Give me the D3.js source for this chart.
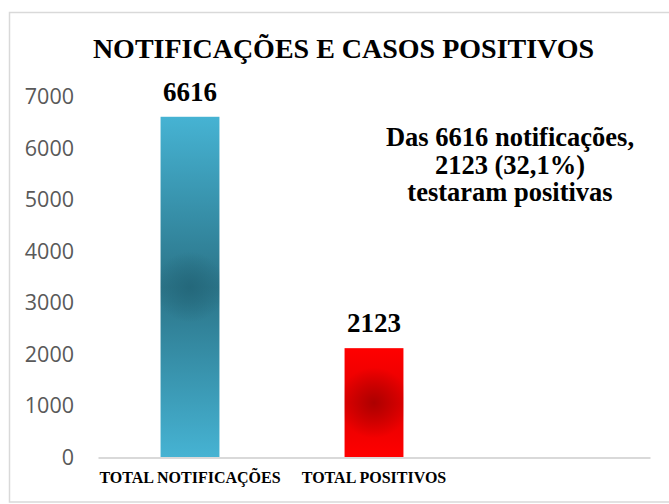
<!DOCTYPE html>
<html>
<head>
<meta charset="utf-8">
<script src="https://cdn.jsdelivr.net/npm/d3@7"></script>
<style>
  html, body { margin: 0; padding: 0; background: #fff; }
  svg { display: block; }
</style>
</head>
<body>
<svg id="chart" width="669" height="504"></svg>
<script>
const categories = ["TOTAL NOTIFICAÇÕES", "TOTAL POSITIVOS", ""];
const values = [6616, 2123, null];
const valueLabels = ["6616", "2123", ""];
const yTicks = [0, 1000, 2000, 3000, 4000, 5000, 6000, 7000];
const titleText = "NOTIFICAÇÕES E CASOS POSITIVOS";
const noteLines = ["Das 6616 notificações,", "2123 (32,1%)", "testaram positivas"];

const svg = d3.select("#chart");
const serif = "'Liberation Serif', 'Times New Roman', serif";
const sans = "'Open Sans', 'Noto Sans', sans-serif";

const barStyles = [
  { edge: "#46b3d3", mid: "#2b7488", spot: "#24687b" },
  { edge: "#ff0000", mid: "#e20000", spot: "#ad0000" }
];

// outer border
svg.append("rect").attr("x", 9.5).attr("y", 12.5).attr("width", 680).attr("height", 489.5)
  .attr("fill", "none").attr("stroke", "#d9d9d9").attr("stroke-width", 1.5);

const x = d3.scaleBand().domain(categories).range([98, 650]).paddingInner(0.68).paddingOuter(0.34);
const y = d3.scaleLinear().domain([0, 7000]).range([457.5, 97]);

// y axis
const yAxis = svg.append("g").attr("transform", "translate(98,0)")
  .call(d3.axisLeft(y).tickValues(yTicks).tickSize(0).tickPadding(24).tickFormat(d3.format("d")));
yAxis.select(".domain").remove();
yAxis.selectAll("text").attr("font-family", sans).attr("font-size", 21.5).attr("fill", "#595959");

// gradients + bars
const defs = svg.append("defs");
const data = categories.map((c, i) => ({ c, v: values[i], label: valueLabels[i], i }))
  .filter(d => d.v != null);
const bars = svg.append("g");
data.forEach(d => {
  const st = barStyles[d.i];
  const x0 = x(d.c), w = x.bandwidth(), y0 = y(d.v), h = y(0) - y(d.v);
  const lg = defs.append("linearGradient").attr("id", "lg" + d.i)
    .attr("x1", 0).attr("y1", 0).attr("x2", 0).attr("y2", 1);
  lg.append("stop").attr("offset", "0%").attr("stop-color", st.edge);
  lg.append("stop").attr("offset", "50%").attr("stop-color", st.mid);
  lg.append("stop").attr("offset", "100%").attr("stop-color", st.edge);
  const rg = defs.append("radialGradient").attr("id", "rg" + d.i)
    .attr("gradientUnits", "userSpaceOnUse")
    .attr("cx", x0 + w / 2).attr("cy", y0 + h / 2).attr("r", w * 0.6);
  rg.append("stop").attr("offset", "0%").attr("stop-color", st.spot).attr("stop-opacity", 1);
  rg.append("stop").attr("offset", "100%").attr("stop-color", st.spot).attr("stop-opacity", 0);
  ["lg", "rg"].forEach(k => {
    bars.append("rect")
      .attr("x", x0).attr("width", w)
      .attr("y", y0).attr("height", h)
      .attr("fill", `url(#${k}${d.i})`);
  });
});

// x axis
const xAxis = svg.append("g").attr("transform", `translate(0,${y(0)})`)
  .call(d3.axisBottom(x).tickSize(0).tickPadding(14));
xAxis.select(".domain").attr("stroke", "#d9d9d9").attr("stroke-width", 2);
xAxis.selectAll("text").attr("font-family", serif).attr("font-size", 16)
  .attr("font-weight", "bold").attr("fill", "#000");

// value labels
svg.append("g").selectAll("text").data(data).join("text")
  .attr("x", d => x(d.c) + x.bandwidth() / 2)
  .attr("y", d => y(d.v) - 16)
  .attr("text-anchor", "middle")
  .attr("font-family", serif).attr("font-size", 27).attr("font-weight", "bold")
  .attr("fill", "#000")
  .text(d => d.label);

// title
svg.append("text").attr("x", 343.5).attr("y", 58).attr("text-anchor", "middle")
  .attr("font-family", serif).attr("font-size", 28).attr("font-weight", "bold")
  .attr("fill", "#000").text(titleText);

// annotation
svg.append("g").selectAll("text").data(noteLines).join("text")
  .attr("x", 510).attr("y", (d, i) => 146 + i * 27.5)
  .attr("text-anchor", "middle")
  .attr("font-family", serif).attr("font-size", 26.5).attr("font-weight", "bold")
  .attr("fill", "#000").text(d => d);
</script>
</body>
</html>
